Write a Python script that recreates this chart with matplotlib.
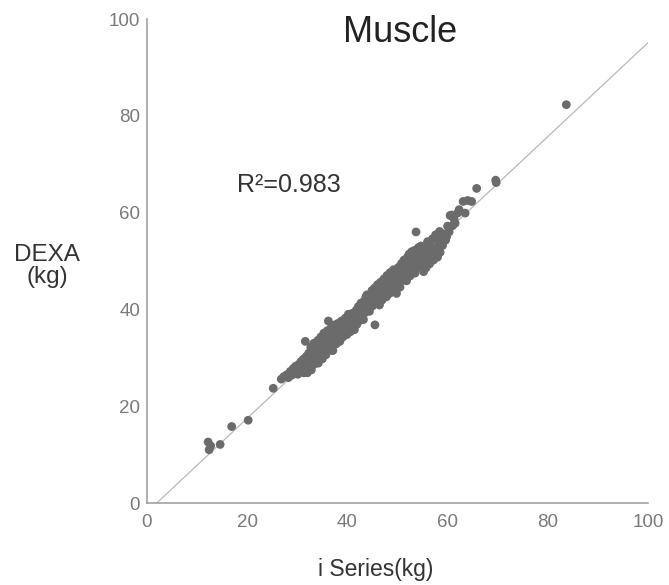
import numpy as np
import matplotlib
matplotlib.use("Agg")
import matplotlib.pyplot as plt

plt.rcParams['font.family'] = ['Liberation Sans', 'DejaVu Sans']

# i Series (kg) vs DEXA (kg)
iseries = [12.2, 12.4, 12.7, 14.6, 16.9, 20.2, 25.2,
           26.8, 27.3, 27.9, 28.2, 28.6, 28.9, 29.2, 29.4, 29.7, 29.9,
           30.1, 30.3, 30.5, 30.7, 30.8, 31.0, 31.2, 31.3, 31.5, 31.6,
           31.8, 31.9, 32.0, 32.1, 32.3, 32.4, 32.6, 32.7, 32.8, 33.0,
           33.1, 33.3, 33.4, 33.5, 33.7, 33.8, 34.0, 34.1, 34.2, 34.4,
           34.5, 34.7, 34.8, 35.0, 35.1, 35.3, 35.4, 35.6, 35.7, 35.9,
           36.0, 36.2, 36.3, 36.4, 36.6, 36.8, 36.9, 37.1, 37.2, 37.3,
           37.5, 37.6, 37.8, 37.9, 38.1, 38.2, 38.4, 38.5, 38.7, 38.8,
           39.0, 39.1, 39.3, 39.4, 39.6, 39.7, 39.9, 40.0, 40.2, 40.3,
           40.5, 40.6, 40.8, 41.0, 41.1, 41.3, 41.4, 41.6, 41.8, 41.9,
           42.1, 42.2, 42.4, 42.5, 42.7, 42.9, 43.0, 43.2, 43.4, 43.5,
           43.7, 43.9, 44.0, 44.2, 44.4, 44.5, 44.7, 44.9, 45.0, 45.2,
           45.5, 45.4, 45.6, 45.8, 46.0, 46.1, 46.3, 46.4, 46.6, 46.8,
           46.9, 47.1, 47.3, 47.4, 47.6, 47.8, 47.9, 48.1, 48.3, 48.4,
           48.5, 48.7, 48.9, 49.0, 49.2, 49.4, 49.5, 49.7, 49.8, 50.0,
           50.2, 50.3, 50.5, 50.7, 50.8, 51.0, 51.2, 51.3, 51.5, 51.7,
           51.8, 52.0, 52.2, 52.3, 52.5, 52.7, 52.8, 53.0, 53.2, 53.4,
           53.5, 53.7, 53.8, 54.0, 54.2, 54.3, 54.5, 54.7, 54.9, 55.0,
           55.2, 55.4, 55.5, 55.7, 55.9, 56.0, 56.2, 56.4, 56.6, 56.8,
           57.0, 57.2, 57.4, 57.6, 57.8, 58.0, 58.2, 58.4, 58.5, 58.7,
           59.0, 59.3, 59.6, 59.8, 60.0, 60.3, 60.5, 60.8, 61.0, 61.3,
           61.5, 62.0, 62.3, 63.1, 63.5, 64.0, 64.8, 65.8, 69.6, 69.7,
           83.7]
dexa = [12.6, 11.0, 11.8, 12.1, 15.8, 17.1, 23.7,
        25.6, 26.1, 26.5, 25.9, 27.2, 26.4, 27.8, 26.9, 28.3, 27.4,
        26.6, 28.6, 27.9, 29.2, 27.1, 28.4, 29.7, 26.9, 28.9, 33.4,
        30.3, 27.6, 26.9, 29.1, 31.0, 28.3, 30.2, 32.2, 27.5, 29.6,
        31.4, 33.0, 28.7, 30.6, 32.0, 29.4, 31.1, 33.6, 28.9, 30.3,
        32.5, 34.3, 31.4, 29.8, 33.0, 35.1, 31.9, 33.9, 30.6, 32.7,
        35.6, 37.6, 33.4, 31.5, 34.6, 36.3, 32.4, 31.5, 35.1, 33.8,
        36.8, 34.3, 32.9, 35.6, 37.1, 34.0, 36.2, 33.4, 35.1, 37.6,
        36.0, 34.3, 37.0, 35.4, 38.2, 36.3, 34.8, 37.4, 39.0, 36.0,
        38.1, 35.4, 37.0, 39.2, 36.6, 38.4, 35.8, 37.6, 39.9, 36.9,
        38.8, 40.6, 37.7, 39.6, 41.3, 38.5, 40.2, 37.9, 41.8, 39.3,
        42.6, 43.0, 40.4, 41.6, 39.6, 42.9, 41.1, 43.9, 40.7, 42.4,
        36.8, 44.4, 41.6, 43.2, 45.1, 42.3, 44.1, 40.9, 45.6, 43.0,
        41.9, 44.7, 46.3, 43.6, 45.2, 42.6, 47.0, 44.6, 46.0, 43.3,
        47.6, 45.0, 46.8, 44.1, 48.2, 43.8, 46.2, 47.4, 43.3, 45.3,
        48.7, 46.6, 44.6, 47.8, 49.5, 46.0, 48.3, 50.2, 47.1, 49.2,
        45.9, 50.8, 48.1, 51.4, 46.9, 49.6, 51.9, 48.4, 50.4, 52.2,
        47.5, 56.0, 49.6, 51.3, 52.8, 48.8, 50.5, 53.1, 49.3, 51.8,
        47.8, 53.0, 50.2, 48.6, 52.1, 54.0, 50.9, 49.4, 53.2, 51.5,
        54.6, 50.2, 52.6, 55.4, 52.3, 50.8, 53.9, 56.1, 51.8, 54.7,
        53.2, 55.6, 54.3, 55.0, 57.2, 56.0, 59.4, 59.5, 57.3, 58.6,
        57.8, 59.9, 60.6, 62.3, 59.9, 62.5, 62.3, 65.0, 66.7, 66.2,
        82.3]

# fitted line
slope = 0.97
intercept = -1.9
r2_text = "R\u00b2=0.983"

ticks = [0, 20, 40, 60, 80, 100]

fig = plt.figure(figsize=(6.69, 5.85), dpi=100)
ax = fig.add_axes([147/669, 82/585, 501/669, 484/585])

xs = np.array([0, 100])
ax.plot(xs, slope*xs + intercept, color='#b8b8b8', lw=0.9, zorder=1)
ax.scatter(iseries, dexa, s=40, color='#6b6b6b', edgecolors='none', zorder=2)

ax.set_xlim(0, 100)
ax.set_ylim(0, 100)
ax.set_xticks(ticks)
ax.set_yticks(ticks)
ax.tick_params(length=0, labelsize=13.5, labelcolor='#7a7a7a')
ax.tick_params(axis='x', pad=8)
ax.tick_params(axis='y', pad=5)
for side in ['top', 'right']:
    ax.spines[side].set_visible(False)
for side in ['left', 'bottom']:
    ax.spines[side].set_color('#9a9a9a')
    ax.spines[side].set_linewidth(1.1)

ax.text(18.0, 65.7, r2_text, fontsize=18, color='#333333', ha='left', va='center')

fig.text(0.598, 0.945, "Muscle", fontsize=26, color='#222222', ha='center', va='center')
fig.text(0.070, 0.546, "DEXA\n(kg)", fontsize=17.5, color='#333333', ha='center', va='center', linespacing=1.0)
fig.text(0.562, 0.026, "i Series(kg)", fontsize=16.5, color='#333333', ha='center', va='center')

fig.savefig("out.png", dpi=100)
